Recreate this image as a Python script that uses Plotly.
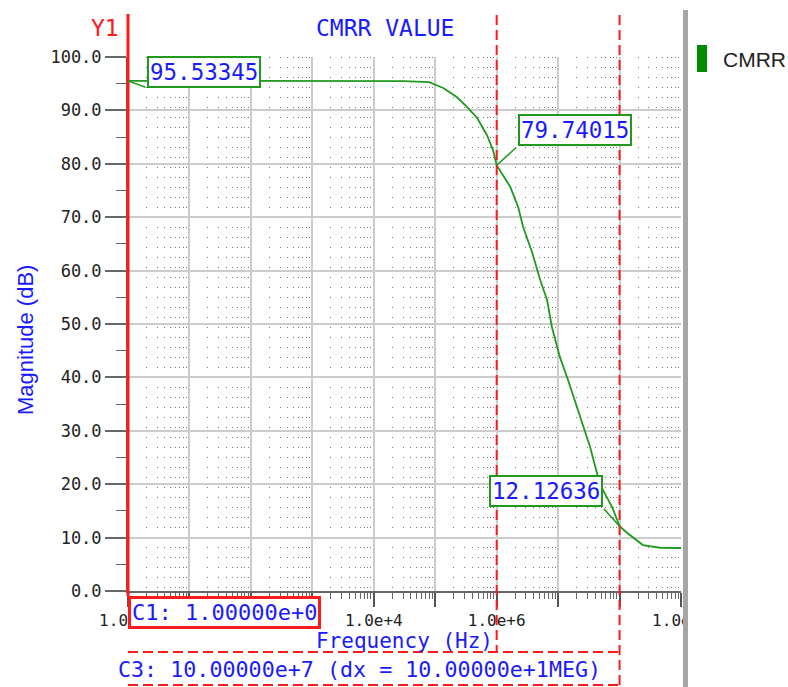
import numpy as np
import plotly.graph_objects as go

# ---- data -----------------------------------------------------------------
freq_hz = [1, 10, 100, 1e3, 1e4, 3e4, 8e4, 1.35e5, 2.24e5, 3.31e5, 4.79e5,
           6.92e5, 8.71e5, 1e6, 1.66e6, 2.24e6, 2.69e6, 3.8e6, 5.13e6, 6.61e6,
           7.94e6, 1.07e7, 1.45e7, 2.29e7, 3.31e7, 4.47e7, 5.37e7, 7.59e7,
           1e8, 1.32e8, 2.4e8, 4.57e8, 1e9]
cmrr_db = [95.53345, 95.53, 95.53, 95.53, 95.52, 95.5, 95.3, 94.2, 92.5, 90.6,
           88.6, 85.4, 82.6, 79.74015, 75.7, 71.9, 68.2, 63.3, 58.2, 54.5,
           49.4, 43.8, 39.5, 32.6, 27.0, 21.3, 18.9, 15.7, 12.12636, 10.9,
           8.6, 8.1, 8.05]

cursor_hz = [1, 1e6, 1e8]
cursor_db = [95.53345, 79.74015, 12.12636]

x_tick_hz = [1e0, 1e1, 1e2, 1e3, 1e4, 1e5, 1e6, 1e7, 1e8, 1e9]
x_tick_text = ["1.0e+0", "", "", "", "1.0e+4", "", "1.0e+6", "", "", "1.0e+9"]
y_tick_vals = [0, 10, 20, 30, 40, 50, 60, 70, 80, 90, 100]

# ---- layout helpers -------------------------------------------------------
W, H = 788, 687
PL, PR, PT, PB = 128, 681, 57, 591
X_DECADES = [0, 9]
Y_RANGE = [0, 100]


def paper_x(px):
    return (px - PL) / (PR - PL)


def paper_y(py):
    return (PB - py) / (PB - PT)


def cursor_px(f):
    return (np.log10(f) - X_DECADES[0]) / (X_DECADES[1] - X_DECADES[0])


MONO = "DejaVu Sans Mono"
SANS = "Liberation Sans"
BLUE = "#1a1aff"
RED = "#ff1a1a"
GREEN = "#1f9a1f"

minor_x = [d * m for d in x_tick_hz[:-1] for m in range(2, 10)]

fig = go.Figure()
fig.add_trace(go.Scatter(
    x=freq_hz, y=cmrr_db, mode="lines", name="CMRR",
    line=dict(color=GREEN, width=1.8), showlegend=False,
))

fig.update_layout(
    width=W, height=H,
    margin=dict(l=PL, r=W - PR, t=PT, b=H - PB),
    paper_bgcolor="white", plot_bgcolor="white",
    showlegend=False,
)

fig.update_xaxes(
    type="log", range=X_DECADES,
    tickmode="array", tickvals=x_tick_hz, ticktext=x_tick_text,
    ticks="outside", ticklen=14, tickwidth=2, tickcolor="#555",
    tickfont=dict(family=MONO, size=16, color="#222"),
    showgrid=True, gridcolor="#cccccc", gridwidth=2,
    showline=True, linecolor="#666", linewidth=2,
    zeroline=False,
    minor=dict(tickmode="array", tickvals=minor_x, ticks="outside",
               ticklen=6, tickwidth=1, tickcolor="#666",
               showgrid=True, gridcolor="#7a7a7a", gridwidth=1,
               griddash="1px,9px"),
)
fig.update_yaxes(
    range=Y_RANGE, tickmode="array", tickvals=y_tick_vals,
    ticktext=[f"{v:.1f}" for v in y_tick_vals],
    ticks="outside", ticklen=21, tickwidth=2, tickcolor="#666",
    tickfont=dict(family=MONO, size=17, color="#222"),
    showgrid=True, gridcolor="#cccccc", gridwidth=2,
    showline=True, linecolor="#666", linewidth=2,
    zeroline=False,
    minor=dict(dtick=5, ticks="outside", ticklen=10, tickwidth=1,
               tickcolor="#666", showgrid=False),
)

shapes = []
# clip area for the right-hand tick label and window divider
shapes.append(dict(type="rect", xref="paper", yref="paper",
                   x0=paper_x(684), x1=paper_x(W), y0=paper_y(H), y1=paper_y(592),
                   fillcolor="white", line=dict(width=0), layer="above"))
shapes.append(dict(type="rect", xref="paper", yref="paper",
                   x0=paper_x(683), x1=paper_x(688), y0=paper_y(H), y1=paper_y(10),
                   fillcolor="#a6a6a6", line=dict(width=0), layer="above"))

# cursor lines
shapes.append(dict(type="line", xref="paper", yref="paper",
                   x0=cursor_px(cursor_hz[0]), x1=cursor_px(cursor_hz[0]),
                   y0=paper_y(14), y1=paper_y(596),
                   line=dict(color=RED, width=3), layer="above"))
shapes.append(dict(type="line", xref="paper", yref="paper",
                   x0=cursor_px(cursor_hz[1]), x1=cursor_px(cursor_hz[1]),
                   y0=paper_y(15), y1=paper_y(652),
                   line=dict(color=RED, width=2, dash="10px,5px"), layer="above"))
shapes.append(dict(type="line", xref="paper", yref="paper",
                   x0=cursor_px(cursor_hz[2]), x1=cursor_px(cursor_hz[2]),
                   y0=paper_y(15), y1=paper_y(H),
                   line=dict(color=RED, width=2, dash="10px,5px"), layer="above"))
# C3 readout frame
for yy in (652, 685):
    shapes.append(dict(type="line", xref="paper", yref="paper",
                       x0=cursor_px(cursor_hz[0]), x1=cursor_px(cursor_hz[2]),
                       y0=paper_y(yy), y1=paper_y(yy),
                       line=dict(color=RED, width=2, dash="10px,5px"), layer="above"))
# legend swatch
shapes.append(dict(type="rect", xref="paper", yref="paper",
                   x0=paper_x(697), x1=paper_x(707), y0=paper_y(72), y1=paper_y(45),
                   fillcolor="#008c00", line=dict(width=0), layer="above"))
fig.update_layout(shapes=shapes)


def label(text, px, py, xanchor="center", **kw):
    return dict(text=text, xref="paper", yref="paper",
                x=paper_x(px), y=paper_y(py),
                xanchor=xanchor, yanchor="middle", showarrow=False, **kw)


ann = [
    label("CMRR VALUE", 385, 28, font=dict(family=MONO, size=23, color=BLUE)),
    label("Y1", 121, 28, xanchor="right", font=dict(family=MONO, size=23, color=RED)),
    label("CMRR", 721, 59, xanchor="left", font=dict(family=SANS, size=21, color="#222")),
    label("Magnitude (dB)", 25, 340, textangle=-90,
          font=dict(family=SANS, size=22, color=BLUE)),
    label("Frequency (Hz)", 404, 641, font=dict(family=MONO, size=21, color=BLUE)),
    label("C3: 10.00000e+7 (dx = 10.00000e+1MEG)", 116, 669, xanchor="left",
          font=dict(family=MONO, size=21.7, color=BLUE)),
]
ann.append(dict(text=f"C1: {cursor_hz[0]:.5e}".replace("e+00", "e+0"),
                xref="paper", yref="paper",
                x=cursor_px(cursor_hz[0]), y=paper_y(596),
                xanchor="left", yanchor="top", showarrow=False,
                bgcolor="white", bordercolor=RED, borderwidth=3, borderpad=1,
                font=dict(family=MONO, size=22, color=BLUE)))

# value callouts: (x shift, y shift) of the box corner from the point
callout = [(19, -7, "left"), (21, 19, "left"), (-17, 19, "right")]
for f, v, (dx, dy, side) in zip(cursor_hz, cursor_db, callout):
    ann.append(dict(text="", x=np.log10(f), y=v, xref="x", yref="y",
                    showarrow=True, arrowhead=0, arrowwidth=1.5,
                    arrowcolor=GREEN, ax=dx, ay=-dy, standoff=0))
    ann.append(dict(text=f"{v:.5f}", x=np.log10(f), y=v, xref="x", yref="y",
                    xanchor=side, yanchor="bottom", xshift=dx, yshift=dy,
                    showarrow=False, bgcolor="white", bordercolor=GREEN,
                    borderwidth=2, borderpad=1,
                    font=dict(family=MONO, size=22.5, color=BLUE)))
fig.update_layout(annotations=ann)

fig.write_html("out.html")
